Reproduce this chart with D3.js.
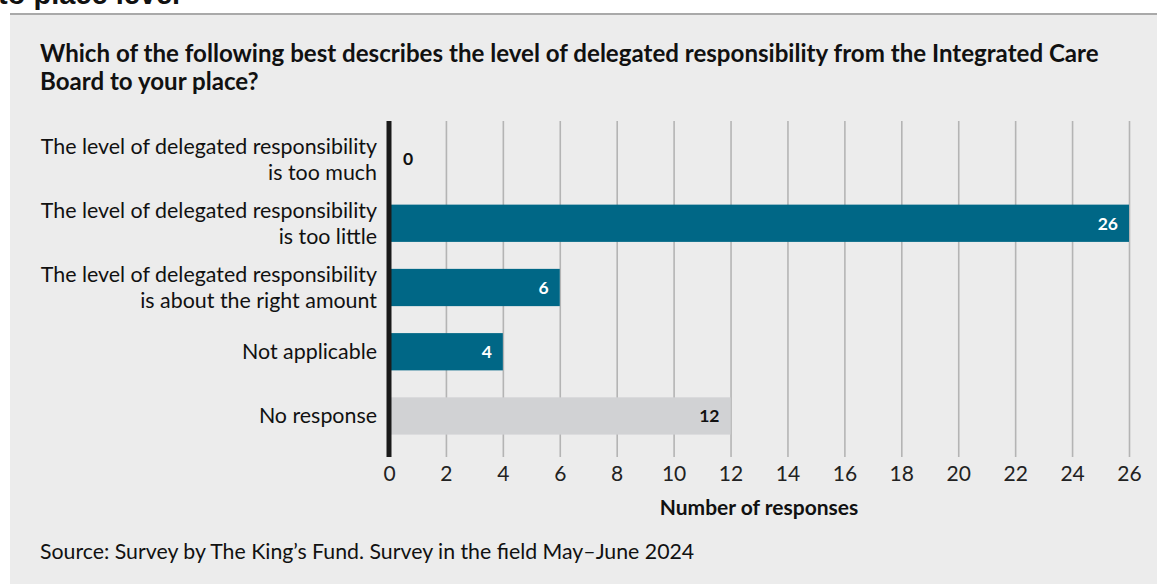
<!DOCTYPE html>
<html>
<head>
<meta charset="utf-8">
<script src="https://cdn.jsdelivr.net/npm/d3@7"></script>
<style>
  html, body { margin: 0; padding: 0; background: #ffffff; }
  svg { display: block; }
</style>
</head>
<body>
<div id="chart"></div>
<script>
// Survey responses on delegated responsibility
const categories = [
  ["The level of delegated responsibility", "is too much"],
  ["The level of delegated responsibility", "is too little"],
  ["The level of delegated responsibility", "is about the right amount"],
  ["Not applicable"],
  ["No response"]
];
const values = [0, 26, 6, 4, 12];
const isNoResponse = [false, false, false, false, true];
const xTicks = [0, 2, 4, 6, 8, 10, 12, 14, 16, 18, 20, 22, 24, 26];

const W = 1158, H = 584;
const svg = d3.select("#chart").append("svg")
  .attr("width", W).attr("height", H)
  .style("font-family", "Lato, 'Open Sans', sans-serif");

// heading text of the page section above (runs off the top edge)
svg.append("text")
  .attr("x", -2).attr("y", 4)
  .style("font-family", "'Liberation Sans', Arial, sans-serif")
  .style("font-weight", 700).style("font-size", "29px")
  .attr("fill", "#111")
  .text("to place level");

// panel
svg.append("rect").attr("x", 10).attr("y", 13).attr("width", 1147).attr("height", H - 13)
  .attr("fill", "#ececec");
svg.append("line").attr("x1", 10).attr("x2", 1157).attr("y1", 14).attr("y2", 14)
  .attr("stroke", "#a9a9a9").attr("stroke-width", 2);

// title
const title = svg.append("text").attr("x", 40).attr("y", 62)
  .style("font-weight", 700).style("font-size", "24.1px").attr("fill", "#111");
title.append("tspan").attr("x", 40).attr("dy", 0)
  .text("Which of the following best describes the level of delegated responsibility from the Integrated Care");
title.append("tspan").attr("x", 40).attr("dy", 28).text("Board to your place?");

const x = d3.scaleLinear().domain([0, 26]).range([389, 1129]);
const idx = d3.range(categories.length);
const y = d3.scaleBand().domain(idx).range([126.9, 448.1]).paddingInner(0.42).paddingOuter(0.21);

const gridTop = 121, gridBottom = 457;

// vertical gridlines and tick labels
const xAxis = d3.axisBottom(x).tickValues(xTicks).tickSize(gridTop - gridBottom).tickPadding(0);
const gx = svg.append("g").attr("transform", `translate(0,${gridBottom})`).call(xAxis);
gx.select(".domain").remove();
gx.selectAll(".tick line").attr("stroke", "#b4b4b4").attr("stroke-width", 1.6);
gx.selectAll(".tick text")
  .attr("y", 23.5).attr("dy", 0)
  .style("font-family", "Lato, sans-serif")
  .style("font-size", "21px").attr("fill", "#222");

// bars
svg.append("g").selectAll("rect").data(idx).join("rect")
  .attr("x", x(0))
  .attr("y", i => y(i))
  .attr("width", i => x(values[i]) - x(0))
  .attr("height", y.bandwidth())
  .attr("fill", i => isNoResponse[i] ? "#d1d2d4" : "#006786");

// zero baseline
svg.append("line").attr("x1", x(0)).attr("x2", x(0)).attr("y1", gridTop).attr("y2", gridBottom)
  .attr("stroke", "#1a1a1a").attr("stroke-width", 5);

// value labels
svg.append("g").selectAll("text").data(idx).join("text")
  .attr("x", i => values[i] === 0 ? x(0) + 14 : x(values[i]) - 11)
  .attr("y", i => y(i) + y.bandwidth() / 2)
  .attr("dy", "0.36em")
  .attr("text-anchor", i => values[i] === 0 ? "start" : "end")
  .style("font-weight", 700).style("font-size", "17.5px")
  .attr("fill", i => (values[i] === 0 || isNoResponse[i]) ? "#111" : "#ffffff")
  .text(i => values[i]);

// category labels
const cat = svg.append("g").selectAll("text").data(idx).join("text")
  .attr("text-anchor", "end")
  .style("font-size", "21.4px").attr("fill", "#111")
  .attr("transform", i => `translate(377,${y(i) + y.bandwidth() / 2})`);
cat.each(function (i) {
  const lines = categories[i];
  const lh = 26;
  const start = -(lines.length - 1) * lh / 2;
  d3.select(this).selectAll("tspan").data(lines).join("tspan")
    .attr("x", 0)
    .attr("y", (d, k) => start + k * lh)
    .attr("dy", "0.35em")
    .text(d => d);
});

// axis title
svg.append("text").attr("x", x(13)).attr("y", 515).attr("text-anchor", "middle")
  .style("font-weight", 700).style("font-size", "21px").attr("fill", "#111")
  .text("Number of responses");

// source note
svg.append("text").attr("x", 40).attr("y", 559)
  .style("font-size", "21.3px").attr("fill", "#111")
  .text("Source: Survey by The King\u2019s Fund. Survey in the field May\u2013June 2024");
</script>
</body>
</html>
